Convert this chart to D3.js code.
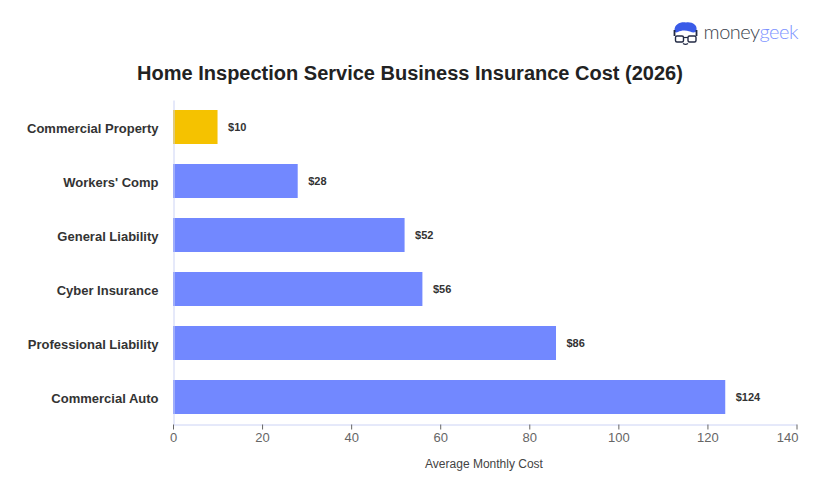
<!DOCTYPE html>
<html>
<head>
<meta charset="utf-8">
<script src="https://cdn.jsdelivr.net/npm/d3@7/dist/d3.min.js"></script>
<style>
html,body{margin:0;padding:0;background:#fff;}
text{font-family:"Liberation Sans",Arial,sans-serif;}
</style>
</head>
<body>
<svg id="chart" width="820" height="500"></svg>
<script>
const categories = ["Commercial Property","Workers' Comp","General Liability","Cyber Insurance","Professional Liability","Commercial Auto"];
const costs = [10,28,52,56,86,124];
const barColors = ["#f5c200","#7288ff","#7288ff","#7288ff","#7288ff","#7288ff"];
const xTicks = [0,20,40,60,80,100,120,140];

const svg = d3.select("#chart");
const x = d3.scaleLinear().domain([0,140]).range([173,796.5]);
const y = d3.scaleBand().domain(categories).range([100,424]).paddingInner(20/54).paddingOuter(10/54);

// Title
svg.append("text").attr("x",410).attr("y",79.5).attr("text-anchor","middle")
  .attr("font-size",20).attr("font-weight",700).attr("fill","#222").text("Home Inspection Service Business Insurance Cost (2026)");

// Bars
svg.selectAll("rect.bar").data(categories).join("rect").attr("class","bar")
  .attr("x",x(0)).attr("y",d=>y(d)).attr("height",y.bandwidth())
  .attr("width",(d,i)=>x(costs[i])-x(0)).attr("fill",(d,i)=>barColors[i]);

// Value labels
svg.selectAll("text.val").data(categories).join("text").attr("class","val")
  .attr("x",(d,i)=>x(costs[i])+10.5).attr("y",d=>y(d)+y.bandwidth()/2+4)
  .attr("font-size",11).attr("font-weight",700).attr("fill","#333").text((d,i)=>"$"+costs[i]);

// Category axis
const yAxis = svg.append("g").attr("transform","translate(173.5,0)")
  .call(d3.axisLeft(y).tickSize(0).tickPadding(15));
yAxis.select(".domain").attr("stroke","#ccd3f5");
yAxis.selectAll("text").attr("dy","0.47em").attr("font-size",13).attr("font-weight",700).attr("fill","#333").style("font-family","'Liberation Sans',Arial,sans-serif");

// Value axis; the last label is pulled inward so it stays inside the plot edge
const xAxis = svg.append("g").attr("transform","translate(0,424.5)")
  .call(d3.axisBottom(x).tickValues(xTicks).tickSize(5).tickPadding(3).tickSizeOuter(0));
xAxis.select(".domain").attr("stroke","#ccd3f5");
xAxis.selectAll("line").attr("stroke","#666");
xAxis.selectAll("text").attr("font-size",13).attr("fill","#666").style("font-family","'Liberation Sans',Arial,sans-serif");
xAxis.selectAll(".tick:last-of-type text").attr("text-anchor","end").attr("dx",1.5);

svg.append("text").attr("x",484).attr("y",468).attr("text-anchor","middle")
  .attr("font-size",12).attr("fill","#444").text("Average Monthly Cost");

// Brand mark: hair, glasses, smile
const logo = svg.append("g").attr("transform","translate(673,21)");
logo.append("path").attr("d","M1.5 9 C1.5 3 8 0.5 13 1.5 C19 0.5 24.5 4 23.5 9 C23 12 20 12 17 10.5 C12 9 8 9.5 5 11 C3 12 1.5 11.5 1.5 9 Z").attr("fill","#3a5be8");
logo.append("path").attr("d","M1.5 9 L1.5 15 M23.5 9 L23.5 15").attr("stroke","#222a44").attr("stroke-width",1.8).attr("fill","none");
logo.append("rect").attr("x",2.5).attr("y",15).attr("width",8).attr("height",6).attr("rx",1.5).attr("fill","#fff").attr("stroke","#222a44").attr("stroke-width",1.4);
logo.append("rect").attr("x",15).attr("y",15).attr("width",8).attr("height",6).attr("rx",1.5).attr("fill","#fff").attr("stroke","#222a44").attr("stroke-width",1.4);
logo.append("path").attr("d","M10.5 16.5 L15 16.5").attr("stroke","#222a44").attr("stroke-width",1.2);
logo.append("path").attr("d","M10 22.5 C11.5 23.5 13.5 23.5 15 22.5").attr("stroke","#222a44").attr("stroke-width",1.2).attr("fill","none");
const word = svg.append("text").attr("x",703.5).attr("y",39).attr("font-size",20).attr("textLength",95).style("font-family","'Lato',sans-serif").style("font-weight",300);
word.append("tspan").attr("fill","#3a3f4c").text("money");
word.append("tspan").attr("fill","#7c92ff").text("geek");
</script>
</body>
</html>
